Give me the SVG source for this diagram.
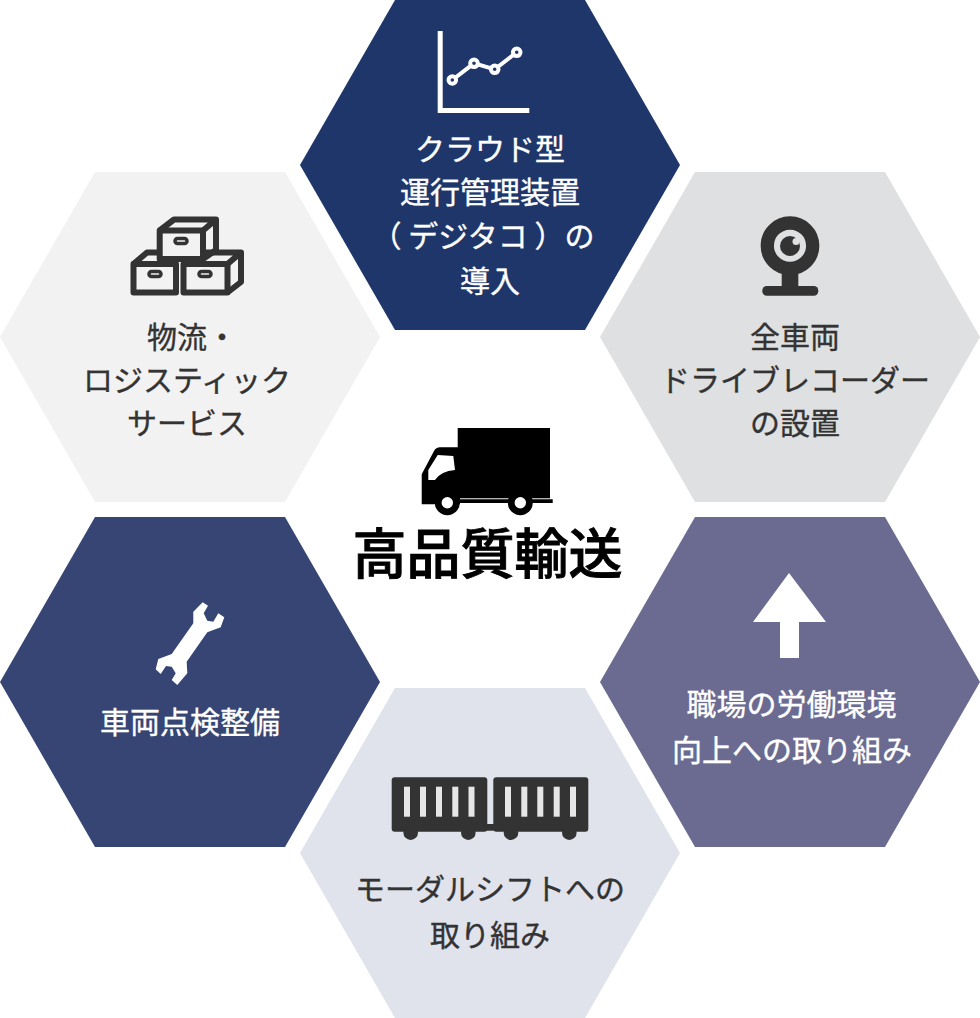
<svg xmlns="http://www.w3.org/2000/svg" width="980" height="1018" viewBox="0 0 980 1018">
<style>
text{font-family:"Noto Sans CJK JP","Noto Sans",sans-serif;font-size:30px;font-weight:400;text-anchor:middle;stroke-width:.35px}
.d{fill:#333;stroke:#333}.w{fill:#fff;stroke:#fff}
</style>
<defs><polygon id="hex" points="0,165 95,0 285,0 380,165 285,330 95,330"/></defs>
<rect width="980" height="1018" fill="#fff"/>
<g id="node-digitacho">
<use href="#hex" x="300" y="0" fill="#1e3669"/>
<path d="M440.200 31V110.500H529.300" fill="none" stroke="#fff" stroke-width="5"/>
<path d="M452.300 80L474 63.300L494.700 69.300L516.700 52.300" fill="none" stroke="#fff" stroke-width="4"/>
<g fill="#1e3669" stroke="#fff" stroke-width="4"><circle cx="452.300" cy="80" r="3.800"/><circle cx="474" cy="63.300" r="3.800"/><circle cx="494.700" cy="69.300" r="3.800"/><circle cx="516.700" cy="52.300" r="3.800"/></g>
<text class="w" x="490" y="160">クラウド型</text>
<text class="w" x="490" y="203">運行管理装置</text>
<text class="w" x="483" y="247">（ デジタコ ）の</text>
<text class="w" x="490" y="292">導入</text>
</g>
<g id="node-logistics">
<use href="#hex" x="0" y="172" fill="#f2f2f2"/>
<g fill="none" stroke="#333" stroke-width="6" stroke-linejoin="round">
<rect x="159.700" y="230.500" width="43.300" height="28.500"/>
<path d="M159.700 230.500L174 219.500H216V250L203 259M203 230.500L216 219.500"/>
<rect x="133.500" y="264" width="42.500" height="28.500"/>
<path d="M133.500 264L147 252.500H160"/>
<rect x="183.500" y="264" width="44" height="28.500"/>
<path d="M205 252.500H241V282L227.500 292.500M227.500 264L241 252.500"/>
<g stroke-width="3.500">
<rect x="175" y="238.500" width="12" height="5" rx="2.500"/>
<rect x="149" y="271.500" width="12" height="5" rx="2.500"/>
<rect x="199" y="271.500" width="12" height="5" rx="2.500"/>
</g>
</g>
<text class="d" x="192" y="348">物流・</text>
<text class="d" x="187" y="391">ロジスティック</text>
<text class="d" x="187" y="434">サービス</text>
</g>
<g id="node-recorder">
<use href="#hex" x="600" y="172" fill="#dfe0e1"/>
<circle cx="790" cy="245.700" r="22.700" fill="none" stroke="#333" stroke-width="13.300"/>
<circle cx="790" cy="246" r="10" fill="#333"/>
<circle cx="796" cy="241.500" r="3.500" fill="#dfe0e1"/>
<rect x="781.700" y="270" width="16.600" height="20" fill="#333"/>
<rect x="762.300" y="286" width="56" height="9.700" rx="4.500" fill="#333"/>
<text class="d" x="795" y="348">全車両</text>
<text class="d" x="795" y="391">ドライブレコーダー</text>
<text class="d" x="795" y="434">の設置</text>
</g>
<g id="node-center">
<rect x="457.700" y="428" width="92.300" height="70.300" fill="#000"/>
<path d="M421.700 474.300L434 451Q436 447.300 440 447.300H460V499.300H552.700V503H460V504.300H421.700Z M428.300 480V470L437.700 455L453.300 456L455 470Q441 471 435 480Z" fill="#000" fill-rule="evenodd"/>
<circle cx="447.300" cy="502.700" r="12.500" fill="#000"/><circle cx="447.300" cy="502.700" r="5.700" fill="#fff"/>
<circle cx="520.300" cy="502.700" r="12.500" fill="#000"/><circle cx="520.300" cy="502.700" r="5.700" fill="#fff"/>
<text x="487.500" y="574" style="font-size:54px;font-weight:500;fill:#000;stroke:#000;stroke-width:.9px">高品質輸送</text>
</g>
<g id="node-maintenance">
<use href="#hex" x="0" y="517" fill="#364573"/>
<polygon points="193.300,611.700 202.700,602.300 208,605.700 203.700,613.300 207.300,620.700 213.300,621.700 218.300,613.300 224.300,617.300 220.700,627.300 207.300,632.300 186.700,661.700 187.300,673.300 177.300,685 171.700,680 175.700,673.300 171.700,666.700 166,666 160.700,674 155.700,669.300 158.300,659 171.700,654 193.300,623.300" fill="#fff"/>
<text class="w" x="190" y="733">車両点検整備</text>
</g>
<g id="node-workplace">
<use href="#hex" x="600" y="517" fill="#6b6b91"/>
<polygon points="789,573 826,622 799,622 799,658 780,658 780,622 753,622" fill="#fff"/>
<text class="w" x="791.500" y="715">職場の労働環境</text>
<text class="w" x="792" y="761">向上への取り組み</text>
</g>
<g id="node-modal">
<use href="#hex" x="300" y="688" fill="#e0e2ec"/>
<g fill="#333">
<rect x="391.700" y="777.300" width="95.600" height="54.400" rx="3"/>
<rect x="493.300" y="777.300" width="95" height="54.400" rx="3"/>
<rect x="486" y="824" width="9" height="6.700"/>
<circle cx="410.700" cy="832.700" r="7.300"/><circle cx="468.300" cy="832.700" r="7.300"/><circle cx="511" cy="832.700" r="7.300"/><circle cx="569.300" cy="832.700" r="7.300"/>
</g>
<g fill="#e6e6e6">
<rect x="404" y="786.700" width="6" height="30"/><rect x="420" y="786.700" width="6" height="30"/><rect x="436" y="786.700" width="6" height="30"/><rect x="452.300" y="786.700" width="6" height="30"/><rect x="468.500" y="786.700" width="6" height="30"/>
<rect x="505" y="786.700" width="6" height="30"/><rect x="521.300" y="786.700" width="6" height="30"/><rect x="537.300" y="786.700" width="6" height="30"/><rect x="553.700" y="786.700" width="6" height="30"/><rect x="570" y="786.700" width="6" height="30"/>
</g>
<text class="d" x="490" y="900">モーダルシフトへの</text>
<text class="d" x="490" y="946">取り組み</text>
</g>
<g id="connectors"/>
</svg>
